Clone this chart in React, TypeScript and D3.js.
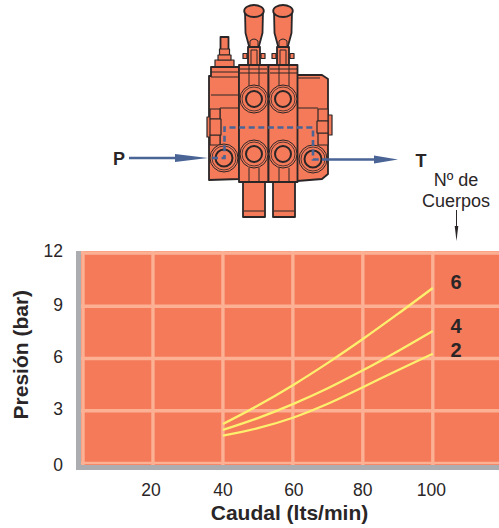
import React from "react";
import * as d3 from "d3";

const flowTicks = [20, 40, 60, 80, 100];
const flowTickNudge = [-2, 0, 1, 0, -1.5];
const pressureTicks = [0, 3, 6, 9, 12];
const flow = [40, 50, 60, 70, 80, 90, 100];
const sixBodies = [2.24, 3.3, 4.47, 5.75, 7.12, 8.56, 10.05];
const fourBodies = [1.9, 2.58, 3.38, 4.29, 5.32, 6.42, 7.58];
const twoBodies = [1.57, 2.0, 2.6, 3.4, 4.35, 5.33, 6.27];
const curves = [
  { label: "6", values: sixBodies, labelY: 289 },
  { label: "4", values: fourBodies, labelY: 333 },
  { label: "2", values: twoBodies, labelY: 357 },
];

const FONT = "'Liberation Sans', Arial, sans-serif";
const INK = "#2a2627";
const BODY = "#f47a5a";
const BLUE = "#4a6496";
const GRID = "#fcb094";
const CURVE = "#fdf06e";

const x = d3.scaleLinear().domain([0, 100]).range([83, 432.8]);
const y = d3.scaleLinear().domain([0, 12]).range([463, 254]);
const lineGen = d3
  .line<number>()
  .x((_, i) => x(flow[i]))
  .y((d) => y(d))
  .curve(d3.curveCatmullRom.alpha(0.5));

function Port({ cx, cy, big }: { cx: number; cy: number; big?: boolean }) {
  return (
    <g fill="none" stroke={INK}>
      <circle cx={cx} cy={cy} r={14} strokeWidth={1} fill={BODY} />
      <circle cx={cx} cy={cy} r={12} strokeWidth={0.8} />
      <circle cx={cx} cy={cy} r={big ? 8.5 : 8} strokeWidth={2} />
    </g>
  );
}

function Handle({ cx }: { cx: number }) {
  return (
    <g stroke={INK} strokeWidth={1.8} fill={BODY} strokeLinejoin="round">
      <rect x={cx - 11} y={53.5} width={4} height={5} strokeWidth={1.2} />
      <rect x={cx + 7} y={53.5} width={4} height={5} strokeWidth={1.2} />
      <path d={`M${cx - 6},65 V47 H${cx + 6} V65 Z`} />
      <path d={`M${cx - 9},11 L${cx - 8.5},33 L${cx - 5},46 H${cx + 5} L${cx + 8.5},33 L${cx + 9},11 Z`} />
      <path d={`M${cx - 4},46 V41 Q${cx},37 ${cx + 4},41 V46`} strokeWidth={1} />
      <path d={`M${cx - 3},65 V50 H${cx + 3} V65`} strokeWidth={1} />
      <ellipse cx={cx} cy={11} rx={9.8} ry={6} />
    </g>
  );
}

function Valve() {
  return (
    <g>
      <Handle cx={254} />
      <Handle cx={283} />
      <g stroke={INK} strokeWidth={1.8} fill={BODY} strokeLinejoin="round">
        <rect x={220.5} y={37} width={8} height={13} />
        <rect x={219.5} y={49} width={10} height={6} strokeWidth={1.2} />
        <rect x={215} y={60} width={19} height={7} strokeWidth={1.2} />
        <rect x={218} y={55} width={13} height={5} strokeWidth={1.2} />
        <rect x={243} y={180} width={22} height={37} />
        <rect x={273} y={180} width={22} height={37} />
        <path d="M244,211 H264 M274,211 H294" strokeWidth={1} />
        <path d="M297,75 H322 L328,79 V174 L322,179 L297,181 Z" />
        <path d="M209,76 L211,76 V67 H239 V179 L209,180 Z" />
        <rect x={239} y={65} width={29.5} height={117} />
        <rect x={268.5} y={65} width={29} height={117} />
        <g fill="none" strokeWidth={1}>
          <path d="M211,72 H238 M211,77 H238 M211,95 H238 M220,108 H239 M220,108 V150" />
          <path d="M297,108 H318 M297,78 H320" />
          <path d="M240,69 H267 M270,69 H297 M240,73 H267 M270,73 H297" />
          <path d="M249,65 V88 M259,65 V88 M279,65 V88 M289,65 V88" />
          <path d="M249,168 V182 M259,168 V182 M279,168 V182 M289,168 V182" />
        </g>
        <rect x={207} y={117} width={4} height={20} strokeWidth={1.2} />
        <rect x={210} y={109} width={10} height={10} strokeWidth={1.2} />
        <rect x={210} y={135} width={10} height={10} strokeWidth={1.2} />
        <rect x={210} y={119} width={11} height={16} strokeWidth={1.2} />
        <rect x={328} y={115} width={4} height={20} strokeWidth={1.2} />
        <rect x={318} y={109} width={10} height={12} strokeWidth={1.2} />
        <rect x={318} y={133} width={10} height={12} strokeWidth={1.2} />
        <rect x={317} y={121} width={11} height={12} strokeWidth={1.2} />
      </g>
      <Port cx={254} cy={154} />
      <Port cx={283} cy={154} />
      <Port cx={254} cy={99} />
      <Port cx={283} cy={99} />
      <Port cx={224} cy={158} big />
      <Port cx={313} cy={159} big />
      <path
        d="M212,158 H224.5 V127.5 H313 V159.5 H322"
        fill="none"
        stroke={BLUE}
        strokeWidth={2.6}
        strokeDasharray="6 3.6"
      />
      <path d="M129,158 H175 M322,159.5 H376" stroke={BLUE} strokeWidth={2.4} fill="none" />
      <path d="M175,154 L208,158 L175,162 Z M374,155.5 L398,159.5 L374,163.5 Z" fill={BLUE} />
      <text x={119} y={165} textAnchor="middle" fontSize={18} fontWeight={700} fill={INK}>P</text>
      <text x={421} y={167} textAnchor="middle" fontSize={18} fontWeight={700} fill={INK}>T</text>
    </g>
  );
}

const tickBaseline = (t: number) => (t === 0 ? 471 : t === 12 ? 257 : y(t) + 4.5);

export default function App() {
  return (
    <svg
      width={499}
      height={528}
      style={{ position: "absolute", left: 0, top: 0, background: "#fff" }}
      fontFamily={FONT}
    >
      <Valve />
      <text x={456} y={186} textAnchor="middle" fontSize={18} fill={INK}>Nº de</text>
      <text x={456} y={207} textAnchor="middle" fontSize={18} fill={INK}>Cuerpos</text>
      <path d="M456.5,210 V228" stroke={INK} strokeWidth={1} />
      <path d="M454.7,226 L458.3,226 L456.5,241 Z" fill={INK} />

      <rect x={76} y={251} width={423} height={219} fill="#abadb0" />
      <rect x={81} y={251} width={418} height={214} fill={BODY} />
      <g stroke={GRID} strokeWidth={3.4}>
        <line x1={81} x2={499} y1={253} y2={253} />
        {pressureTicks.slice(1, -1).map((t) => (
          <line key={t} x1={81} x2={499} y1={y(t)} y2={y(t)} />
        ))}
        <line x1={81} x2={499} y1={y(0)} y2={y(0)} strokeWidth={2.4} />
        <line x1={x(0)} x2={x(0)} y1={251} y2={465} />
        {flowTicks.map((t) => (
          <line key={t} x1={x(t)} x2={x(t)} y1={251} y2={465} />
        ))}
      </g>
      {curves.map((c) => (
        <path key={c.label} d={lineGen(c.values) ?? ""} fill="none" stroke={CURVE} strokeWidth={2.3} />
      ))}
      {curves.map((c) => (
        <text key={c.label} x={456} y={c.labelY} textAnchor="middle" fontSize={20} fontWeight={700} fill={INK}>
          {c.label}
        </text>
      ))}
      {pressureTicks.map((t) => (
        <text key={t} x={63} y={tickBaseline(t)} textAnchor="end" fontSize={17.5} fill={INK}>
          {t}
        </text>
      ))}
      {flowTicks.map((t, i) => (
        <text key={t} x={x(t) + flowTickNudge[i]} y={496} textAnchor="middle" fontSize={17.5} fill={INK}>
          {t}
        </text>
      ))}
      <text x={289.5} y={520} textAnchor="middle" fontSize={21} fontWeight={700} fill={INK}>
        Caudal (lts/min)
      </text>
      <text
        transform="translate(28,354.7) rotate(-90)"
        textAnchor="middle"
        fontSize={21}
        fontWeight={700}
        fill={INK}
      >
        Presión (bar)
      </text>
    </svg>
  );
}
